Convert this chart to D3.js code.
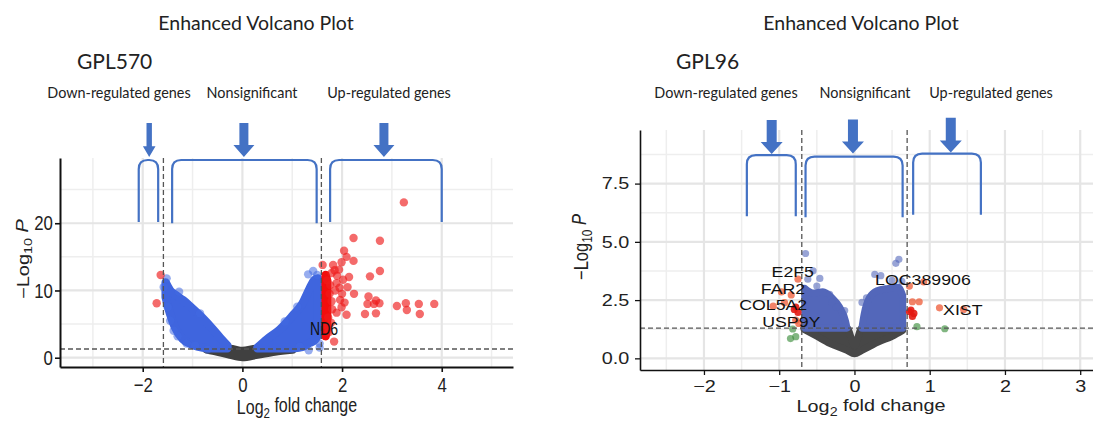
<!DOCTYPE html>
<html>
<head>
<meta charset="utf-8">
<script src="https://cdn.jsdelivr.net/npm/d3@7"></script>
<style>
  body { margin: 0; background: #fff; }
  svg { display: block; }
</style>
</head>
<body>
<svg id="chart" width="1093" height="426"></svg>
<script>
// ---------------- data ----------------
const plotTitle = "Enhanced Volcano Plot";
const regionNames = ["Down-regulated genes", "Nonsignificant", "Up-regulated genes"];

// GPL570 (left)
const gpl570XTicks = [-2, 0, 2, 4];
const gpl570XMinor = [-3, -1, 1, 3, 5];
const gpl570YTicks = [0, 10, 20];
const gpl570YMinor = [5, 15, 25];
const gpl570FcCut = 1.585;
const gpl570PCut = 1.3;
// dense clouds: [log2FC, lowest -log10P, highest -log10P]
const gpl570Gray = [
  [-0.72, 1.25, 1.3], [-0.5, 0.9, 1.3], [-0.25, 0.45, 1.3], [0, 0.1, 1.0],
  [0.3, 0.45, 1.3], [0.65, 0.9, 1.3], [1.0, 1.2, 1.3]
];
const gpl570BlueDown = [
  [-1.54, 9.0, 11.2], [-1.45, 6.5, 10.0], [-1.35, 4.5, 9.4], [-1.2, 2.8, 8.6],
  [-1.0, 1.9, 7.3], [-0.8, 1.5, 5.9], [-0.6, 1.4, 4.3], [-0.45, 1.4, 3.0], [-0.3, 1.4, 1.8]
];
const gpl570BlueUp = [
  [0.3, 1.4, 1.5], [0.5, 1.4, 2.8], [0.75, 1.4, 4.2], [1.0, 1.4, 6.2],
  [1.2, 1.6, 8.0], [1.35, 2.2, 10.3], [1.45, 2.6, 11.6], [1.52, 3.4, 11.8]
];
const gpl570RedBand = [[1.67, 3.2, 12.3], [1.7, 4.5, 11.5]];
const gpl570BluePts = [
  [-1.27, 9.8], [-1.52, 11.8], [-1.58, 10.5], [-1.5, 7.5], [-1.45, 5.5], [-1.3, 3.2],
  [-0.95, 1.8], [1.32, 12.4], [1.42, 12.9], [1.55, 2.1], [1.55, 1.5], [1.33, 1.1],
  [1.15, 1.6], [-0.7, 1.2], [-1.12, 2.1], [-1.38, 4.0], [-0.85, 6.6], [1.1, 7.6],
  [0.85, 5.4], [1.5, 12.3]
];
const gpl570RedPts = [
  [3.24, 23.1], [2.23, 17.8], [2.76, 17.4], [2.04, 15.9], [2.09, 15.0], [2.23, 14.4],
  [1.61, 13.8], [1.82, 13.8], [1.99, 14.2], [2.76, 12.9], [2.56, 12.1], [2.14, 12.0],
  [1.94, 13.1], [1.79, 12.6], [2.02, 11.6], [1.89, 11.1], [1.76, 10.8], [2.11, 10.5],
  [1.86, 10.0], [2.24, 9.5], [2.53, 9.1], [1.96, 8.6], [1.79, 8.4], [2.51, 8.0],
  [2.68, 8.5], [2.75, 8.1], [2.64, 8.0], [1.99, 7.5], [2.09, 6.4], [1.89, 6.7],
  [2.46, 6.5], [2.68, 6.6], [3.10, 7.7], [3.28, 8.1], [3.30, 7.1], [3.54, 8.0],
  [3.56, 6.5], [3.85, 8.0], [1.84, 2.4], [1.69, 4.7], [-1.64, 12.3], [-1.72, 8.1],
  [1.75, 9.5], [1.8, 7.2], [1.72, 6.0], [1.78, 5.2], [1.9, 12.2], [1.85, 13.0],
  [2.0, 9.5], [1.7, 11.5], [1.95, 10.4], [2.05, 8.2], [1.73, 3.8]
];
const gpl570Genes = [["ND6", 1.64, 4.4]];
// annotation brackets [x from, x to, y top, y bottom] and arrows [x, y top, y tip, size]
const gpl570Brackets = [[-2.08, -1.69, 29.4, 20.2], [-1.41, 1.49, 29.4, 20.0], [1.76, 4.0, 29.4, 20.2]];
const gpl570Arrows = [[-1.87, 34.9, 29.85, 0.6], [0.03, 34.9, 29.85, 1], [2.84, 34.9, 29.85, 1]];

// GPL96 (right)
const gpl96XTicks = [-2, -1, 0, 1, 2, 3];
const gpl96XMinor = [-2.5, -1.5, -0.5, 0.5, 1.5, 2.5];
const gpl96YTicks = [0, 2.5, 5, 7.5];
const gpl96YMinor = [1.25, 3.75, 6.25, 8.75];
const gpl96FcCut = 0.7;
const gpl96PCut = 1.3;
const gpl96Gray = [
  [-0.67, 1.25, 1.3], [-0.5, 0.95, 1.3], [-0.33, 0.65, 1.3], [-0.1, 0.35, 1.3],
  [0, 0.2, 0.55], [0.1, 0.35, 1.3], [0.33, 0.72, 1.3], [0.5, 0.95, 1.3], [0.64, 1.2, 1.3]
];
const gpl96BlueDown = [
  [-0.66, 1.3, 3.0], [-0.55, 1.3, 2.8], [-0.42, 1.3, 2.85], [-0.3, 1.3, 2.6],
  [-0.2, 1.3, 2.2], [-0.12, 1.3, 1.6], [-0.1, 1.3, 1.3]
];
const gpl96BlueUp = [
  [0.1, 1.3, 1.3], [0.13, 1.3, 1.9], [0.2, 1.3, 2.6], [0.3, 1.3, 2.9],
  [0.45, 1.3, 3.0], [0.58, 1.3, 3.05], [0.64, 1.3, 2.7]
];
const gpl96BluePts = [
  [-0.65, 4.5], [-0.55, 3.76], [-0.46, 3.43], [-0.5, 3.1], [-0.33, 2.75], [-0.13, 2.05],
  [-0.3, 2.4], [-0.62, 3.4], [0.27, 3.6], [0.35, 3.55], [0.55, 4.08], [0.59, 4.25],
  [0.63, 3.3], [0.5, 3.35], [0.1, 2.4], [-0.24, 2.2], [0.16, 2.6]
];
const gpl96OrangePts = [
  [-0.75, 3.4], [-0.97, 2.85], [-0.84, 2.72], [-1.08, 2.24], [-0.93, 2.39], [-0.78, 1.64],
  [-0.74, 1.5], [0.73, 3.1], [0.77, 2.43], [0.86, 2.43], [1.13, 2.17], [1.45, 2.1], [0.92, 3.28]
];
const gpl96RedPts = [
  [-0.8, 2.1], [-0.75, 1.97], [-0.78, 2.2], [0.75, 2.07], [0.79, 1.93], [0.77, 1.8], [0.73, 2.0]
];
const gpl96GreenPts = [[-0.82, 1.26], [-0.78, 0.93], [-0.85, 0.85], [0.83, 1.36], [1.2, 1.27]];
const gpl96Genes = [
  ["E2F5", -0.82, 3.7], ["FAR2", -0.95, 3.0], ["COL5A2", -1.08, 2.28],
  ["USP9Y", -0.84, 1.55], ["LOC389906", 0.91, 3.36], ["XIST", 1.44, 2.09]
];
const gpl96Brackets = [[-1.43, -0.78, 8.72, 6.1], [-0.65, 0.64, 8.66, 6.06], [0.78, 1.68, 8.79, 6.16]];
const gpl96Arrows = [[-1.10, 10.23, 8.77, 1], [-0.02, 10.25, 8.79, 1], [1.28, 10.33, 8.83, 1]];

// ---------------- drawing ----------------
const svg = d3.select("#chart");
const annBlue = "#4472c4";
const axisFont = "'Liberation Sans', Arial, sans-serif";
const headFont = "Lato, 'Open Sans', sans-serif";

function drawVolcano(p) {
  const g = svg.append("g");
  const x = d3.scaleLinear().domain(p.xDomain).range([p.left, p.right]);
  const y = d3.scaleLinear().domain(p.yDomain).range([p.bottom, p.top]);

  // header texts
  g.append("text").attr("x", p.titleX).attr("y", 30).attr("text-anchor", "middle")
    .attr("font-family", headFont).attr("font-size", 19.5).attr("fill", "#222").text(plotTitle);
  g.append("text").attr("x", p.setX).attr("y", 69)
    .attr("font-family", headFont).attr("font-size", 21).attr("fill", "#222").text(p.setName);
  g.selectAll(".region").data(regionNames).join("text")
    .attr("x", (d, i) => p.regionX[i]).attr("y", 98).attr("text-anchor", "middle")
    .attr("font-family", headFont).attr("font-size", 14.4).attr("fill", "#222").text(d => d);

  // grid
  const grid = g.append("g");
  grid.selectAll(".vmin").data(p.xMinor).join("line")
    .attr("x1", d => x(d)).attr("x2", d => x(d)).attr("y1", p.top).attr("y2", p.bottom)
    .attr("stroke", "#eeeeee").attr("stroke-width", 1.5);
  grid.selectAll(".hmin").data(p.yMinor).join("line")
    .attr("y1", d => y(d)).attr("y2", d => y(d)).attr("x1", p.left).attr("x2", p.right)
    .attr("stroke", "#eeeeee").attr("stroke-width", 1.5);
  grid.selectAll(".vmaj").data(p.xTicks).join("line")
    .attr("x1", d => x(d)).attr("x2", d => x(d)).attr("y1", p.top).attr("y2", p.bottom)
    .attr("stroke", "#e5e5e5").attr("stroke-width", 2.2);
  grid.selectAll(".hmaj").data(p.yTicks).join("line")
    .attr("y1", d => y(d)).attr("y2", d => y(d)).attr("x1", p.left).attr("x2", p.right)
    .attr("stroke", "#e5e5e5").attr("stroke-width", 2.2);

  // dense clouds as envelopes, stroked to give round point edges
  const area = d3.area().curve(d3.curveMonotoneX)
    .x(d => x(d[0])).y0(d => y(d[1])).y1(d => y(d[2]));
  p.clouds.forEach(c => {
    g.append("path").attr("d", area(c.data))
      .attr("fill", c.color).attr("stroke", c.color)
      .attr("stroke-width", p.r * 2).attr("stroke-linejoin", "round");
  });

  // single points
  p.points.forEach(s => {
    g.append("g").selectAll("circle").data(s.data).join("circle")
      .attr("cx", d => x(d[0])).attr("cy", d => y(d[1])).attr("r", p.r)
      .attr("fill", s.color).attr("fill-opacity", s.alpha);
  });

  // cutoff lines
  const cut = g.append("g").attr("stroke", "#555").attr("stroke-width", 1.3)
    .attr("stroke-dasharray", "5,3");
  [-p.fcCut, p.fcCut].forEach(v => {
    cut.append("line").attr("x1", x(v)).attr("x2", x(v)).attr("y1", p.top).attr("y2", p.bottom);
  });
  cut.append("line").attr("x1", p.left).attr("x2", p.right)
    .attr("y1", y(p.pCut)).attr("y2", y(p.pCut));

  // axes
  const xAxis = g.append("g").attr("transform", `translate(0,${p.bottom})`)
    .call(d3.axisBottom(x).tickValues(p.xTicks).tickSize(5).tickPadding(5).tickSizeOuter(0)
      .tickFormat(p.xFmt));
  const yAxis = g.append("g").attr("transform", `translate(${p.left},0)`)
    .call(d3.axisLeft(y).tickValues(p.yTicks).tickSize(5).tickPadding(4).tickSizeOuter(0)
      .tickFormat(p.yFmt));
  [xAxis, yAxis].forEach(a => {
    a.select(".domain").attr("stroke", "#111").attr("stroke-width", p.axisW);
    a.selectAll(".tick line").attr("stroke", "#111").attr("stroke-width", p.axisW * 0.8);
    a.selectAll(".tick text").attr("font-family", axisFont).attr("font-size", p.tickFont)
      .attr("fill", "#222").attr("transform", `scale(${p.sx},1)`);
  });

  // axis titles
  const xt = g.append("text").attr("text-anchor", "middle").attr("fill", "#222")
    .attr("font-family", axisFont).attr("font-size", p.titleFont)
    .attr("transform", `translate(${p.xTitle[0]},${p.xTitle[1]}) scale(${p.sx},1)`);
  xt.append("tspan").text("Log");
  xt.append("tspan").attr("dy", "0.3em").attr("font-size", "72%").text("2");
  xt.append("tspan").attr("dy", "-0.3em").text(" fold change");

  const yt = g.append("text").attr("text-anchor", "middle").attr("fill", "#222")
    .attr("font-family", axisFont).attr("font-size", p.titleFont)
    .attr("transform", `translate(${p.yTitle[0]},${p.yTitle[1]}) scale(${p.sx},1) rotate(-90)`);
  yt.append("tspan").text("\u2212Log");
  yt.append("tspan").attr("dy", "0.3em").attr("font-size", "72%").text("10");
  yt.append("tspan").attr("dy", "-0.3em").text(" ");
  yt.append("tspan").attr("font-style", "italic").text("P");

  // annotation brackets and arrows
  const rr = 9;
  g.selectAll(".bracket").data(p.brackets).join("path")
    .attr("d", d => {
      const x0 = x(d[0]), x1 = x(d[1]), yt0 = y(d[2]), yb = y(d[3]);
      return `M${x0},${yb} L${x0},${yt0 + rr} Q${x0},${yt0} ${x0 + rr},${yt0} ` +
        `L${x1 - rr},${yt0} Q${x1},${yt0} ${x1},${yt0 + rr} L${x1},${yb}`;
    })
    .attr("fill", "none").attr("stroke", annBlue).attr("stroke-width", 2.2);
  g.selectAll(".arrow").data(p.arrows).join("path")
    .attr("d", d => {
      const cx = x(d[0]), t = y(d[1]), tip = y(d[2]), k = d[3];
      const w = p.shaft * k / 2, hw = p.head * k / 2, hl = 12 * (0.75 + 0.25 * k);
      return `M${cx - w},${t} L${cx + w},${t} L${cx + w},${tip - hl} L${cx + hw},${tip - hl} ` +
        `L${cx},${tip} L${cx - hw},${tip - hl} L${cx - w},${tip - hl} Z`;
    })
    .attr("fill", annBlue);

  // gene labels
  g.selectAll(".gene").data(p.genes).join("text")
    .attr("transform", d => `translate(${x(d[1])},${y(d[2]) + p.geneFont * 0.36}) scale(${p.gsx},1)`)
    .attr("text-anchor", "middle").attr("font-family", axisFont)
    .attr("font-size", p.geneFont).attr("fill", "#111").text(d => d[0]);
}

drawVolcano({
  setName: "GPL570", titleX: 256, setX: 77, regionX: [119, 252, 389],
  left: 60, right: 513, top: 158, bottom: 367,
  xDomain: [-3.66, 5.43], yDomain: [-1.38, 29.7],
  xTicks: gpl570XTicks, xMinor: gpl570XMinor, yTicks: gpl570YTicks, yMinor: gpl570YMinor,
  xFmt: d3.format("d"), yFmt: d3.format("d"),
  fcCut: gpl570FcCut, pCut: gpl570PCut,
  clouds: [
    { data: gpl570Gray, color: "#404040" },
    { data: gpl570BlueDown, color: "#3f65de" },
    { data: gpl570BlueUp, color: "#3f65de" },
    { data: gpl570RedBand, color: "#f20d0d" }
  ],
  points: [
    { data: gpl570BluePts, color: "#4169e1", alpha: 0.55 },
    { data: gpl570RedPts, color: "#ee1c1c", alpha: 0.65 }
  ],
  genes: gpl570Genes, brackets: gpl570Brackets, arrows: gpl570Arrows,
  shaft: 9, head: 21, r: 4.2, sx: 0.8, gsx: 0.78, axisW: 2,
  tickFont: 21, titleFont: 20, geneFont: 18,
  xTitle: [297, 414], yTitle: [29, 259]
});

drawVolcano({
  setName: "GPL96", titleX: 861, setX: 676, regionX: [726, 865, 991],
  left: 640, right: 1093, top: 130, bottom: 370,
  xDomain: [-2.85, 3.17], yDomain: [-0.5, 9.8],
  xTicks: gpl96XTicks, xMinor: gpl96XMinor, yTicks: gpl96YTicks, yMinor: gpl96YMinor,
  xFmt: d3.format("d"), yFmt: d3.format(".1f"),
  fcCut: gpl96FcCut, pCut: gpl96PCut,
  clouds: [
    { data: gpl96Gray, color: "#474747" },
    { data: gpl96BlueDown, color: "#5367ba" },
    { data: gpl96BlueUp, color: "#5367ba" }
  ],
  points: [
    { data: gpl96BluePts, color: "#5367ba", alpha: 0.6 },
    { data: gpl96GreenPts, color: "#3d8f3d", alpha: 0.65 },
    { data: gpl96OrangePts, color: "#ee5a36", alpha: 0.75 },
    { data: gpl96RedPts, color: "#e31a12", alpha: 0.9 }
  ],
  genes: gpl96Genes, brackets: gpl96Brackets, arrows: gpl96Arrows,
  shaft: 10, head: 22, r: 3.6, sx: 1.2, gsx: 1.25, axisW: 1.6,
  tickFont: 16.5, titleFont: 16.5, geneFont: 14.2,
  xTitle: [871, 412], yTitle: [588, 247]
});
</script>
</body>
</html>
